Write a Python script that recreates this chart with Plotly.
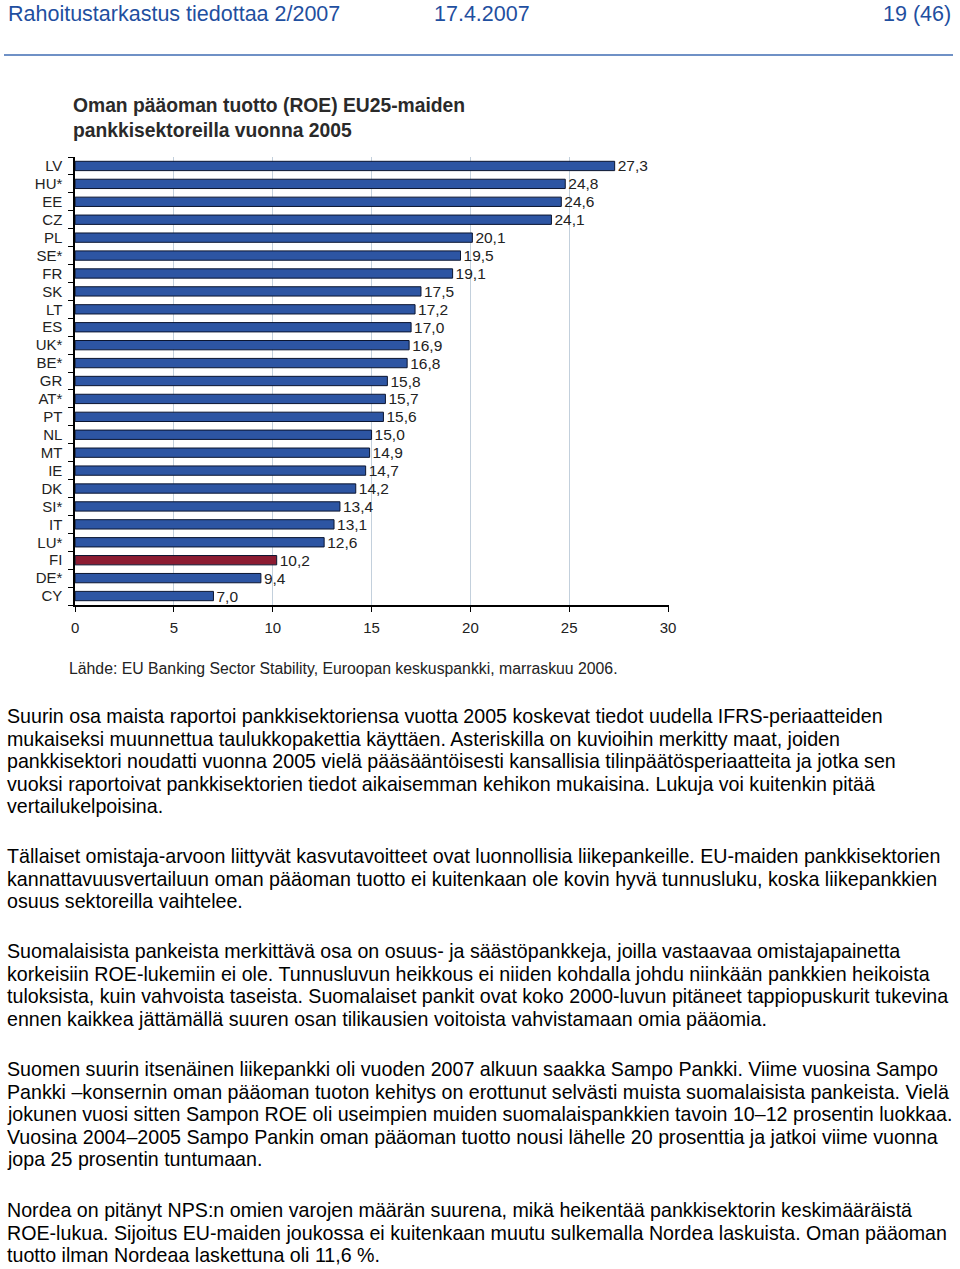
import plotly.graph_objects as go

W, H = 960, 1269

countries = ["LV", "HU*", "EE", "CZ", "PL", "SE*", "FR", "SK", "LT", "ES", "UK*", "BE*", "GR",
             "AT*", "PT", "NL", "MT", "IE", "DK", "SI*", "IT", "LU*", "FI", "DE*", "CY"]
roe = [27.3, 24.8, 24.6, 24.1, 20.1, 19.5, 19.1, 17.5, 17.2, 17.0, 16.9, 16.8, 15.8,
       15.7, 15.6, 15.0, 14.9, 14.7, 14.2, 13.4, 13.1, 12.6, 10.2, 9.4, 7.0]
highlight = "FI"
x_ticks = [0, 5, 10, 15, 20, 25, 30]

title_lines = ["Oman pääoman tuotto (ROE) EU25-maiden", "pankkisektoreilla vuonna 2005"]
source_text = "Lähde: EU Banking Sector Stability, Euroopan keskuspankki, marraskuu 2006."
header_left = "Rahoitustarkastus tiedottaa 2/2007"
header_mid = "17.4.2007"
header_right = "19 (46)"

paragraphs = [
    ["Suurin osa maista raportoi pankkisektoriensa vuotta 2005 koskevat tiedot uudella IFRS-periaatteiden",
     "mukaiseksi muunnettua taulukkopakettia käyttäen. Asteriskilla on kuvioihin merkitty maat, joiden",
     "pankkisektori noudatti vuonna 2005 vielä pääsääntöisesti kansallisia tilinpäätösperiaatteita ja jotka sen",
     "vuoksi raportoivat pankkisektorien tiedot aikaisemman kehikon mukaisina. Lukuja voi kuitenkin pitää",
     "vertailukelpoisina."],
    ["Tällaiset omistaja-arvoon liittyvät kasvutavoitteet ovat luonnollisia liikepankeille. EU-maiden pankkisektorien",
     "kannattavuusvertailuun oman pääoman tuotto ei kuitenkaan ole kovin hyvä tunnusluku, koska liikepankkien",
     "osuus sektoreilla vaihtelee."],
    ["Suomalaisista pankeista merkittävä osa on osuus- ja säästöpankkeja, joilla vastaavaa omistajapainetta",
     "korkeisiin ROE-lukemiin ei ole. Tunnusluvun heikkous ei niiden kohdalla johdu niinkään pankkien heikoista",
     "tuloksista, kuin vahvoista taseista. Suomalaiset pankit ovat koko 2000-luvun pitäneet tappiopuskurit tukevina",
     "ennen kaikkea jättämällä suuren osan tilikausien voitoista vahvistamaan omia pääomia."],
    ["Suomen suurin itsenäinen liikepankki oli vuoden 2007 alkuun saakka Sampo Pankki. Viime vuosina Sampo",
     "Pankki –konsernin oman pääoman tuoton kehitys on erottunut selvästi muista suomalaisista pankeista. Vielä",
     "jokunen vuosi sitten Sampon ROE oli useimpien muiden suomalaispankkien tavoin 10–12 prosentin luokkaa.",
     "Vuosina 2004–2005 Sampo Pankin oman pääoman tuotto nousi lähelle 20 prosenttia ja jatkoi viime vuonna",
     "jopa 25 prosentin tuntumaan."],
    ["Nordea on pitänyt NPS:n omien varojen määrän suurena, mikä heikentää pankkisektorin keskimääräistä",
     "ROE-lukua. Sijoitus EU-maiden joukossa ei kuitenkaan muutu sulkemalla Nordea laskuista. Oman pääoman",
     "tuotto ilman Nordeaa laskettuna oli 11,6 %."],
]
para_first_line = [716, 856, 951, 1069, 1210]
LINE_STEP = 22.6


def py(p):
    return 1 - p / H


def px_(p):
    # horizontal page position for a point measured on the reference picture
    return min(max((p - 4) / 0.987, 0), W) / W


colors = ["#8c1c32" if c == highlight else "#2d55a3" for c in countries]

fig = go.Figure()
fig.add_trace(go.Bar(
    x=roe, y=countries, orientation="h",
    marker=dict(color=colors, line=dict(color="#0b1530", width=1)),
    width=0.52,
    texttemplate="%{x:.1f}", textposition="outside", constraintext="none",
    textfont=dict(family="Liberation Sans", size=15.5, color="#222222"),
    cliponaxis=False,
    hoverinfo="skip",
))

BLUE = "#1f4fa0"
annotations = [
    dict(text=header_left, x=px_(6), y=py(14), xanchor="left", yanchor="middle",
         font=dict(family="Liberation Sans", size=21.5, color=BLUE)),
    dict(text=header_mid, x=px_(431), y=py(14), xanchor="left", yanchor="middle",
         font=dict(family="Liberation Sans", size=21.5, color=BLUE)),
    dict(text=header_right, x=px_(955), y=py(14), xanchor="right", yanchor="middle",
         font=dict(family="Liberation Sans", size=21.5, color=BLUE)),
    dict(text="<b>" + title_lines[0] + "</b>", x=px_(71), y=py(105), xanchor="left", yanchor="middle",
         font=dict(family="Liberation Sans", size=19.3, color="#2a2a2a")),
    dict(text="<b>" + title_lines[1] + "</b>", x=px_(71), y=py(130), xanchor="left", yanchor="middle",
         font=dict(family="Liberation Sans", size=19.3, color="#2a2a2a")),
    dict(text=source_text, x=px_(67), y=py(668), xanchor="left", yanchor="middle",
         font=dict(family="Liberation Sans", size=15.8, color="#222222")),
]
for lines, y0 in zip(paragraphs, para_first_line):
    for i, line in enumerate(lines):
        annotations.append(dict(text=line, x=px_(5), y=py(y0 + i * LINE_STEP), xanchor="left",
                                yanchor="middle", align="left",
                                font=dict(family="Liberation Sans", size=19.65, color="#000000")))
for a in annotations:
    a.update(xref="paper", yref="paper", showarrow=False)

x_end = 667 + 592 * 0.05 / 30

fig.update_layout(
    width=W, height=H,
    margin=dict(l=0, r=0, t=0, b=0),
    paper_bgcolor="white", plot_bgcolor="white",
    separators=", ",
    showlegend=False,
    annotations=annotations,
    shapes=[dict(type="line", xref="paper", yref="paper", x0=px_(3), x1=px_(957), y0=py(55), y1=py(55),
                 line=dict(color="#3f6db3", width=1.5))],
    xaxis=dict(
        domain=[px_(75), px_(x_end)], range=[0, 30.05],
        tickvals=x_ticks, ticks="outside", ticklen=5, tickcolor="#000000",
        showgrid=True, gridcolor="#c3d0dc", gridwidth=1,
        showline=True, linecolor="#000000", linewidth=2,
        tickfont=dict(family="Liberation Sans", size=15, color="#222222"),
        ticklabelstandoff=3, zeroline=False, fixedrange=True,
    ),
    yaxis=dict(
        domain=[py(605), py(157)], range=[24.5, -0.5],
        categoryorder="array", categoryarray=countries,
        tickmode="array", tickvals=countries, ticktext=countries,
        tickson="boundaries", ticks="outside", ticklen=5, tickcolor="#000000",
        showline=True, linecolor="#000000", linewidth=1.5, showgrid=False,
        tickfont=dict(family="Liberation Sans", size=15, color="#222222"),
        ticklabelstandoff=8, fixedrange=True,
    ),
)

# The page's default 8px body margin would push the 960x1269 figure out of the window.
fig.write_html("out.html", config={"displayModeBar": False},
               post_script="document.body.style.margin='0';document.body.style.overflow='hidden';")
